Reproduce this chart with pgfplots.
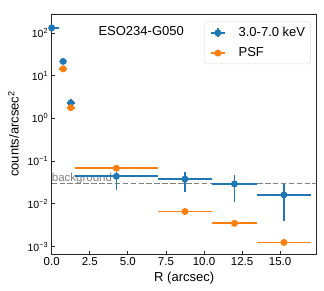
\documentclass[border=0pt]{standalone}
\usepackage{fontspec}
\setmainfont{Liberation Sans}
\usepackage{pgfplots}
\pgfplotsset{compat=1.18}
\definecolor{tblue}{HTML}{1F77B4}
\definecolor{torange}{HTML}{FF7F0E}
\begin{document}
\begin{tikzpicture}
\useasboundingbox (-51.7pt,-37pt) rectangle (272.3pt,254pt);
\begin{axis}[
  scale only axis, width=265pt, height=240pt,
  anchor=south west, at={(0,0)},
  ymode=log, log basis y=10,
  xmin=0, xmax=17.4, ymin=6.7e-4, ymax=277,
  axis line style={black!85, line width=0.8pt},
  tick align=inside, xtick pos=bottom, ytick pos=left,
  major tick length=3.5pt, minor tick length=2pt,
  tick style={black!85, line width=0.8pt},
  xtick={0,2.5,5,7.5,10,12.5,15},
  xticklabels={0.0,2.5,5.0,7.5,10.0,12.5,15.0},
  ytick={0.001,0.01,0.1,1,10,100},
  yticklabels={10\textsuperscript{−3},10\textsuperscript{−2},10\textsuperscript{−1},10\textsuperscript{0},10\textsuperscript{1},10\textsuperscript{2}},
  xticklabel style={font=\fontsize{11.5}{13}\selectfont},
  yticklabel style={font=\fontsize{10.5}{12}\selectfont},
  xlabel={R (arcsec)}, ylabel={counts/arcsec\textsuperscript{2}},
  label style={font=\fontsize{13}{15}\selectfont},
  ylabel style={yshift=2pt},
  legend style={at={(0.977,0.968)}, anchor=north east, draw=black!15, rounded corners=2.5pt,
    font=\fontsize{13}{15}\selectfont, row sep=5.5pt, inner xsep=1pt, inner ysep=3.5pt,
    nodes={inner xsep=4.3pt, inner ysep=2pt}},
  legend cell align=left,
  clip=true,
]
\addplot[black!50, dashed, dash pattern=on 5.5pt off 2.4pt, line width=1.1pt, forget plot] coordinates {(0,0.0293) (17.4,0.0293)};
\node[anchor=south west, inner sep=0pt, text=black!50, font=\fontsize{11.5}{13}\selectfont] at (axis cs:0,0.0293) {background};
\node[anchor=north west, inner sep=0pt, font=\fontsize{13}{15}\selectfont] at (rel axis cs:0.176,0.947) {ESO234-G050};

\addplot[tblue, only marks, mark=*, mark size=2.6pt, line width=1.7pt,
  legend image code/.code={
    \path[draw=none,fill=none] (-5.7pt,-5pt) rectangle (23.1pt,5pt);
    \draw[tblue, line width=1.6pt] (0pt,0pt) -- (13.3pt,0pt);
    \draw[tblue, line width=1.6pt] (6.65pt,-4.5pt) -- (6.65pt,4.5pt);
    \fill[tblue] (6.65pt,0pt) circle (2.6pt);},
  error bars/.cd, x dir=both, x explicit, y dir=both, y explicit,
  error mark=none, error bar style={line width=1.7pt, tblue}]
  coordinates {
  (0,131) += (0.5,10) -= (0,10)
  (0.75,21.5) += (0.25,1.5) -= (0.25,1.5)
  (1.25,2.3) += (0.25,0.6) -= (0.25,0.47)
  (4.25,0.044) += (2.75,0.011) -= (2.75,0.023)
  (8.75,0.038) += (1.75,0.019) -= (1.75,0.0194)
  (12,0.0293) += (1.5,0.017) -= (1.5,0.018)
  (15.25,0.0162) += (1.75,0.0128) -= (1.75,0.0123)
  };
\addlegendentry{3.0-7.0 keV}
\addplot[torange, only marks, mark=*, mark size=2.6pt, line width=1.7pt,
  legend image code/.code={
    \path[draw=none,fill=none] (-5.7pt,-5pt) rectangle (23.1pt,5pt);
    \draw[torange, line width=1.6pt] (0pt,0pt) -- (13.3pt,0pt);
    \fill[torange] (6.65pt,0pt) circle (2.6pt);},
  error bars/.cd, x dir=both, x explicit,
  error mark=none, error bar style={line width=1.7pt, torange}]
  coordinates {
  (0.75,14.4) +- (0.25,0)
  (1.25,1.78) +- (0.25,0)
  (4.25,0.068) +- (2.75,0)
  (8.75,0.0066) +- (1.75,0)
  (12,0.0035) +- (1.5,0)
  (15.25,0.00125) +- (1.75,0)
  };
\addlegendentry{PSF}
\end{axis}
\end{tikzpicture}
\end{document}
